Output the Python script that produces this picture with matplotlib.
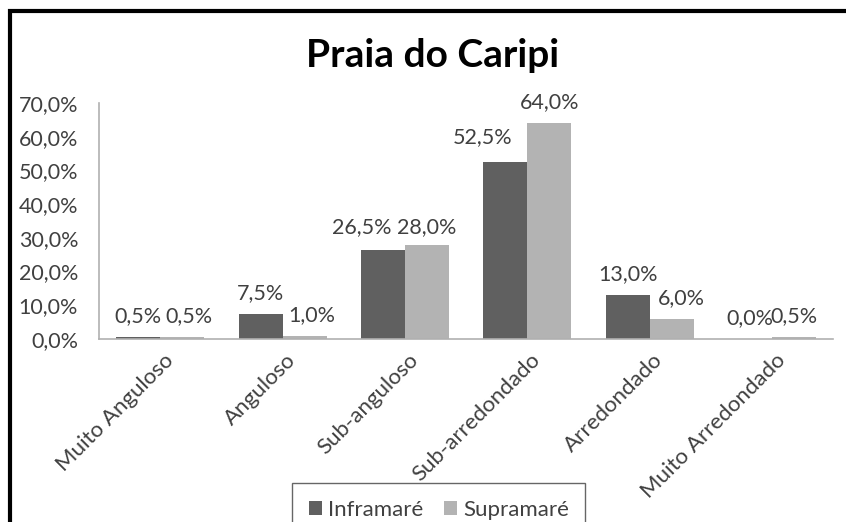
import matplotlib.pyplot as plt
from matplotlib.patches import Rectangle
from matplotlib.transforms import ScaledTranslation

# Data
categories = ['Muito Anguloso', 'Anguloso', 'Sub-anguloso', 'Sub-arredondado',
              'Arredondado', 'Muito Arredondado']
inframare = [0.5, 7.5, 26.5, 52.5, 13.0, 0.0]
supramare = [0.5, 1.0, 28.0, 64.0, 6.0, 0.5]
yticks = [0, 10, 20, 30, 40, 50, 60, 70]

# label nudges in pixels (dx, dy), as placed in the original chart
infra_nudge = [(0, 0), (0, 0), (-21, 2), (-23, 4), (0, 0), (0, 0)]
supra_nudge = [(7, 0), (7, 0), (0, -3), (0, 0), (10, 0), (0, 0)]

plt.rcParams['font.family'] = ['Lato', 'DejaVu Sans']
text_color = '#404040'
fs = 15.5

fig = plt.figure(figsize=(8.46, 5.22), dpi=100)
ax = fig.add_axes([0.117, 0.3506, 0.868, 0.452])

x = range(len(categories))
w = 0.36
b1 = ax.bar([i - w / 2 for i in x], inframare, w, color='#606060', label='Inframaré')
b2 = ax.bar([i + w / 2 for i in x], supramare, w, color='#b3b3b3', label='Supramaré')

# Value labels above bars
for bars, vals, nudges in ((b1, inframare, infra_nudge), (b2, supramare, supra_nudge)):
    for bar, v, (dx, dy) in zip(bars, vals, nudges):
        ax.annotate(f'{v:.1f}%'.replace('.', ','),
                    (bar.get_x() + bar.get_width() / 2, bar.get_height()),
                    xytext=(dx * 0.72, (15 + dy) * 0.72), textcoords='offset points',
                    ha='center', va='baseline', fontsize=fs, color=text_color)

ax.set_xlim(-0.5, len(categories) - 0.5)
ax.set_ylim(0, 70)
ax.set_yticks(yticks)
ax.set_yticklabels([f'{t:.1f}%'.replace('.', ',') for t in yticks], fontsize=fs, color=text_color)
ax.set_xticks(list(x))
ax.set_xticklabels(categories, rotation=45, ha='right', rotation_mode='anchor',
                   fontsize=16, color=text_color)
ax.tick_params(axis='y', length=0, pad=15)
ax.tick_params(axis='x', length=0, pad=8)
shift = ScaledTranslation(3 / 100, 0, fig.dpi_scale_trans)
for lbl in ax.get_xticklabels():
    lbl.set_transform(lbl.get_transform() + shift)

for s in ('top', 'right'):
    ax.spines[s].set_visible(False)
for s in ('left', 'bottom'):
    ax.spines[s].set_color('#b0b0b0')
    ax.spines[s].set_linewidth(1.2)

fig.text(433 / 846, 1 - 67 / 522, 'Praia do Caripi', ha='center', va='baseline',
         fontsize=28, fontweight='bold', color='black')

leg = fig.legend(loc='upper left', bbox_to_anchor=(292 / 846, 1 - 483 / 522),
                 ncol=2, fontsize=16, frameon=True, fancybox=False,
                 handlelength=0.58, handleheight=0.58, handletextpad=0.27,
                 columnspacing=0.95, borderpad=0.75, borderaxespad=0)
leg.get_frame().set_edgecolor('#404040')
leg.get_frame().set_linewidth(1.0)
for t in leg.get_texts():
    t.set_color(text_color)

# Outer black frame (cropped at right and bottom)
fig.add_artist(Rectangle((9.5 / 846, -0.1), 1.1, 1 - 11.3 / 522 + 0.1,
                         transform=fig.transFigure, fill=False,
                         edgecolor='black', linewidth=3, clip_on=False))

fig.savefig('out.png', dpi=100)
